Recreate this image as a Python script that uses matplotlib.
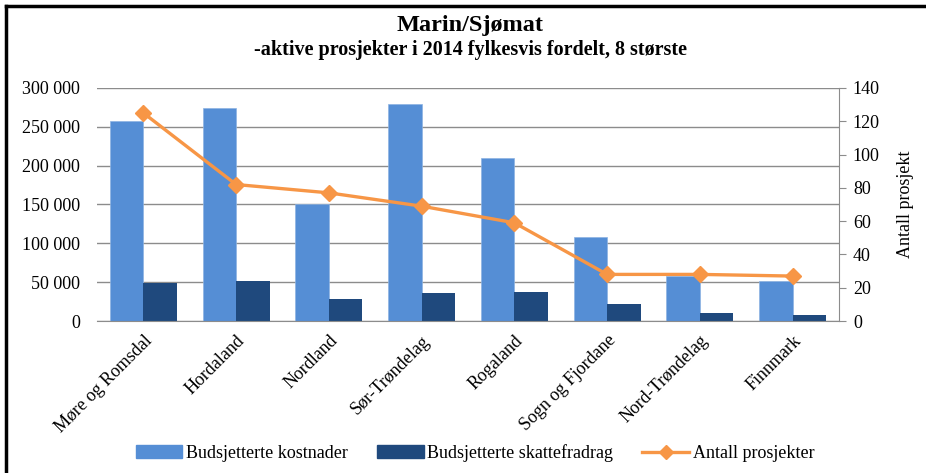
import matplotlib
matplotlib.use("Agg")
import matplotlib.pyplot as plt
from matplotlib.lines import Line2D
import numpy as np

categories = ["Møre og Romsdal", "Hordaland", "Nordland", "Sør-Trøndelag",
              "Rogaland", "Sogn og Fjordane", "Nord-Trøndelag", "Finnmark"]
kostnader = [257000, 274000, 150000, 279000, 210000, 108000, 58000, 51500]
skattefradrag = [49300, 51000, 27900, 36500, 37300, 21500, 9900, 8100]
antall = [125, 82, 77, 69, 59, 28, 28, 27]
left_ticks = [0, 50000, 100000, 150000, 200000, 250000, 300000]
right_ticks = [0, 20, 40, 60, 80, 100, 120, 140]

plt.rcParams['font.family'] = ['Liberation Serif', 'DejaVu Serif']

c_light = "#558ED5"
c_dark = "#1F497D"
c_orange = "#F79646"
grid_c = "#8C8C8C"
FS = 13

fig = plt.figure(figsize=(9.26, 4.73), dpi=100)
ax = fig.add_axes([97/926, 1-321/473, (839-97)/926, (321-88)/473])
x = np.arange(len(categories))
w = 0.36
ax.bar(x - w/2, kostnader, w, color=c_light, edgecolor="#8DB3E2", linewidth=0.5, zorder=2,
       label="Budsjetterte kostnader")
ax.bar(x + w/2, skattefradrag, w, color=c_dark, zorder=2, label="Budsjetterte skattefradrag")
ax.set_xlim(-0.5, len(categories) - 0.5)
ax.set_ylim(0, 300000)
ax.set_yticks(left_ticks)
ax.set_yticklabels([f"{v:,}".replace(",", " ") for v in left_ticks], fontsize=FS)
ax.yaxis.grid(True, color=grid_c, linewidth=1, zorder=0)
ax.set_axisbelow(True)
ax.tick_params(axis='y', length=0, pad=12)
ax.tick_params(axis='x', length=0, pad=8)
ax.set_xticks(x)
ax.set_xticklabels(categories, rotation=45, ha='right', rotation_mode='anchor', fontsize=FS)
for s in ["left", "top", "right"]:
    ax.spines[s].set_visible(False)
ax.spines["bottom"].set_color(grid_c)

ax2 = ax.twinx()
ax2.plot(x, antall, color=c_orange, linewidth=2.4, marker='D', markersize=8, zorder=3,
         label="Antall prosjekter")
ax2.set_ylim(0, 140)
ax2.set_yticks(right_ticks)
ax2.set_yticklabels([str(v) for v in right_ticks], fontsize=FS)
ax2.tick_params(axis='y', length=5, color=grid_c, pad=5)
for s in ["left", "top", "bottom"]:
    ax2.spines[s].set_visible(False)
ax2.spines["right"].set_color(grid_c)
ax2.set_ylabel("Antall prosjekt", fontsize=FS, labelpad=12)

fig.text(470/926, 1-26/473, "Marin/Sjømat", ha='center', va='center', fontsize=17.5, fontweight='bold')
fig.text(470/926, 1-50/473, "-aktive prosjekter i 2014 fylkesvis fordelt, 8 største",
         ha='center', va='center', fontsize=14.5, fontweight='bold')

handles = [plt.Rectangle((0, 0), 1, 1, color=c_light), plt.Rectangle((0, 0), 1, 1, color=c_dark),
           Line2D([], [], color=c_orange, linewidth=2.4, marker='D', markersize=7)]
labels = ["Budsjetterte kostnader", "Budsjetterte skattefradrag", "Antall prosjekter"]
fig.legend(handles, labels, loc='center', bbox_to_anchor=(475/926, 1-453/473), ncol=3,
           frameon=False, fontsize=FS, handlelength=2.6, handletextpad=0.2, columnspacing=1.6)

# frame lines (top and left)
fig.add_artist(Line2D([6/926, 1], [1-6/473, 1-6/473], color='black', linewidth=2.5,
                      transform=fig.transFigure))
fig.add_artist(Line2D([6/926, 6/926], [0, 1-6/473], color='black', linewidth=2.5,
                      transform=fig.transFigure))

fig.savefig("out.png", dpi=100)
